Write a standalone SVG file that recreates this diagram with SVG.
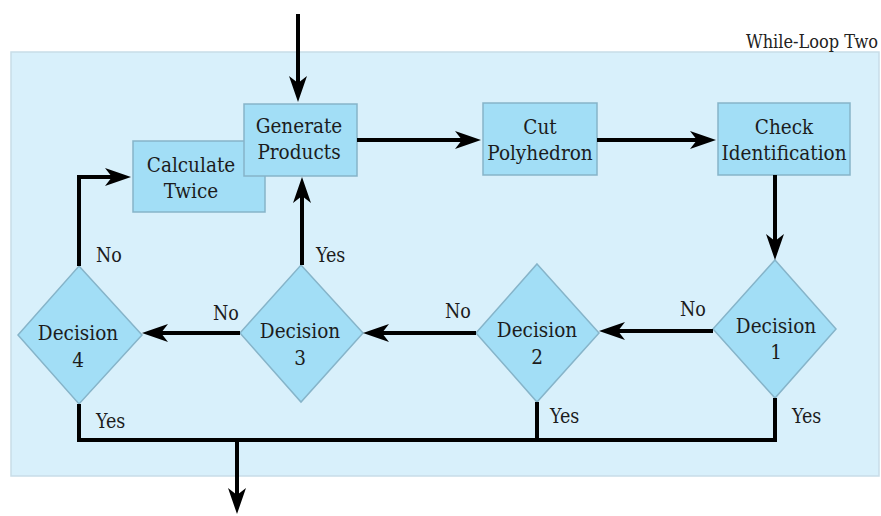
<svg xmlns="http://www.w3.org/2000/svg" width="881" height="516" viewBox="0 0 881 516">
  <style>
    .panel { fill: #d8f0fb; stroke: #c8dde8; stroke-width: 1.5; }
    .box { fill: #a2def6; stroke: #86b4c9; stroke-width: 1.5; }
    text { font-family: 'DejaVu Serif Condensed', 'DejaVu Serif', serif; font-stretch: condensed; fill: #1c1c1c; }
    .t { font-size: 20.5px; text-anchor: middle; }
    .lbl { font-size: 19.5px; }
    .title { font-size: 18px; fill: #222; text-anchor: end; }
    .wire { fill: none; stroke: #000; stroke-width: 4; }
    .arrow { fill: none; stroke: #000; stroke-width: 4; marker-end: url(#head); }
  </style>
  <defs>
    <marker id="head" viewBox="0 0 26 18" markerWidth="26" markerHeight="18" refX="7" refY="9" orient="auto" markerUnits="userSpaceOnUse">
      <path d="M26,9 L0,0 L7,9 L0,18 Z" fill="#000"/>
    </marker>
  </defs>

  <rect width="881" height="516" fill="#ffffff"/>

  <!-- loop frame -->
  <rect class="panel" x="11" y="52" width="868" height="424"/>
  <text class="title" x="878" y="48">While-Loop Two</text>

  <!-- process boxes -->
  <g id="calculate-twice">
    <rect class="box" x="133" y="141" width="132" height="71"/>
    <text class="t" x="191" y="172">Calculate</text>
    <text class="t" x="191" y="198">Twice</text>
  </g>
  <g id="generate-products">
    <rect class="box" x="244" y="104" width="113" height="72"/>
    <text class="t" x="299" y="133">Generate</text>
    <text class="t" x="299" y="159">Products</text>
  </g>
  <g id="cut-polyhedron">
    <rect class="box" x="483" y="103" width="114" height="72"/>
    <text class="t" x="540" y="134">Cut</text>
    <text class="t" x="540" y="160">Polyhedron</text>
  </g>
  <g id="check-identification">
    <rect class="box" x="718" y="103" width="132" height="72"/>
    <text class="t" x="784" y="134">Check</text>
    <text class="t" x="784" y="160">Identification</text>
  </g>

  <!-- decisions -->
  <g id="decision-1">
    <polygon class="box" points="775,260 836,329 775,398 713,329"/>
    <text class="t" x="776" y="333">Decision</text>
    <text class="t" x="776" y="359">1</text>
  </g>
  <g id="decision-2">
    <polygon class="box" points="537,264 599,333 537,402 476,333"/>
    <text class="t" x="537" y="337">Decision</text>
    <text class="t" x="537" y="364">2</text>
  </g>
  <g id="decision-3">
    <polygon class="box" points="301,265 363,333 301,402 240,333"/>
    <text class="t" x="300" y="338">Decision</text>
    <text class="t" x="300" y="365">3</text>
  </g>
  <g id="decision-4">
    <polygon class="box" points="79,266 142,335 79,404 18,335"/>
    <text class="t" x="78" y="340">Decision</text>
    <text class="t" x="78" y="367">4</text>
  </g>

  <!-- connectors -->
  <g id="connectors">
    <line class="arrow" x1="298" y1="14" x2="298" y2="83"/>
    <line class="arrow" x1="357" y1="140" x2="462" y2="140"/>
    <line class="arrow" x1="597" y1="140" x2="697" y2="140"/>
    <line class="arrow" x1="775" y1="175" x2="775" y2="241"/>
    <line class="arrow" x1="713" y1="331" x2="618" y2="331"/>
    <line class="arrow" x1="476" y1="333" x2="382" y2="333"/>
    <line class="arrow" x1="240" y1="333" x2="161" y2="333"/>
    <line class="arrow" x1="302" y1="265" x2="302" y2="196"/>
    <polyline class="arrow" points="79,266 79,177 112,177"/>
    <polyline class="wire" points="79,404 79,440 775,440 775,398"/>
    <line class="wire" x1="537" y1="402" x2="537" y2="440"/>
    <line class="arrow" x1="237" y1="440" x2="237" y2="495"/>
  </g>

  <!-- branch labels -->
  <text class="lbl" x="96" y="262">No</text>
  <text class="lbl" x="316" y="262">Yes</text>
  <text class="lbl" x="213" y="320">No</text>
  <text class="lbl" x="445" y="318">No</text>
  <text class="lbl" x="680" y="316">No</text>
  <text class="lbl" x="96" y="428">Yes</text>
  <text class="lbl" x="550" y="423">Yes</text>
  <text class="lbl" x="792" y="423">Yes</text>
</svg>
